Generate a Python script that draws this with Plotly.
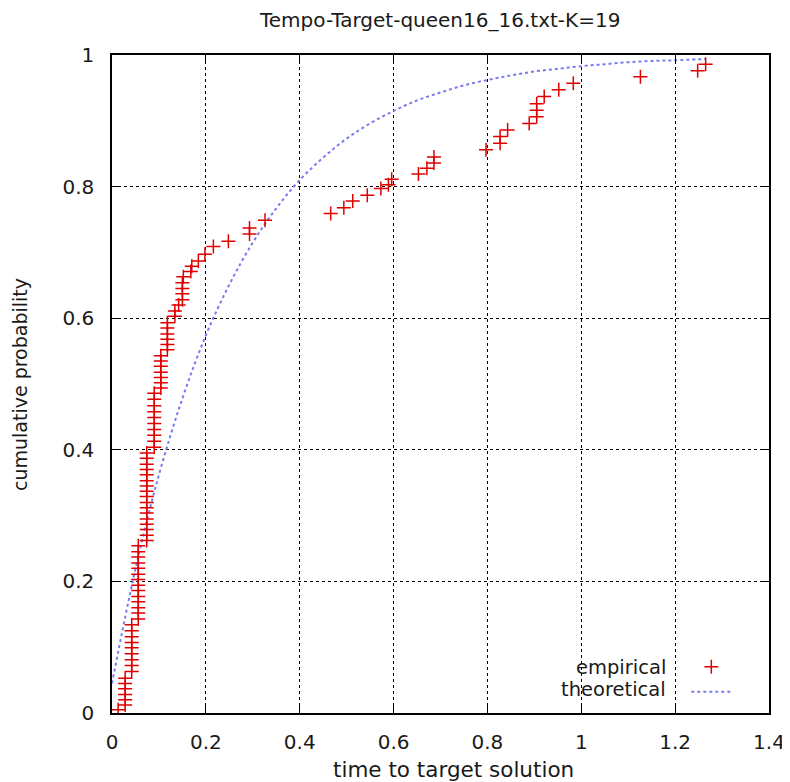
import plotly.graph_objects as go

# Empirical points (time to target, cumulative probability)
emp_x = [0.013,
         0.028, 0.028, 0.028, 0.028, 0.028, 0.028,
         0.042, 0.042, 0.042, 0.042, 0.042, 0.042, 0.042, 0.042, 0.042,
         0.056, 0.056, 0.056, 0.056, 0.056, 0.056, 0.056, 0.056, 0.056, 0.056, 0.056, 0.056, 0.056, 0.056,
         0.074, 0.074, 0.074, 0.074, 0.074, 0.074, 0.074, 0.074, 0.074, 0.074, 0.074, 0.074, 0.074, 0.074, 0.074, 0.074, 0.074,
         0.090, 0.090, 0.090, 0.090, 0.090, 0.090, 0.090, 0.090, 0.090, 0.090,
         0.104, 0.104, 0.104, 0.104, 0.104, 0.104, 0.104,
         0.118, 0.118, 0.118, 0.118, 0.118, 0.118,
         0.134, 0.134, 0.142,
         0.150, 0.150, 0.150, 0.150, 0.152,
         0.168, 0.170, 0.184, 0.198, 0.216, 0.248, 0.293, 0.293, 0.326,
         0.466, 0.494, 0.513, 0.544, 0.573, 0.589, 0.596, 0.653, 0.671, 0.686, 0.686,
         0.797, 0.827, 0.827, 0.843, 0.889, 0.905, 0.905, 0.905, 0.921, 0.952, 0.983,
         1.126, 1.248, 1.265]
emp_y = [0.005,
         0.012, 0.020, 0.028, 0.037, 0.045, 0.053,
         0.063, 0.072, 0.081, 0.090, 0.099, 0.107, 0.116, 0.125, 0.134,
         0.143, 0.152, 0.160, 0.169, 0.177, 0.186, 0.194, 0.203, 0.211, 0.220, 0.228, 0.237, 0.245, 0.254,
         0.262, 0.270, 0.279, 0.287, 0.295, 0.304, 0.312, 0.320, 0.329, 0.337, 0.345, 0.353, 0.362, 0.370, 0.378, 0.387, 0.395,
         0.404, 0.413, 0.422, 0.431, 0.440, 0.449, 0.458, 0.467, 0.477, 0.486,
         0.494, 0.502, 0.510, 0.518, 0.527, 0.535, 0.543,
         0.552, 0.560, 0.568, 0.576, 0.585, 0.593,
         0.603, 0.611, 0.620,
         0.628, 0.637, 0.645, 0.654, 0.663,
         0.671, 0.679, 0.687, 0.697, 0.709, 0.717, 0.728, 0.737, 0.749,
         0.759, 0.768, 0.778, 0.787, 0.797, 0.803, 0.811, 0.819, 0.828, 0.836, 0.845,
         0.856, 0.866, 0.876, 0.886, 0.896, 0.906, 0.916, 0.926, 0.937, 0.947, 0.957,
         0.967, 0.976, 0.986]

# Theoretical exponential curve, sampled
theo_x = [0.0, 0.05, 0.1, 0.15, 0.2, 0.25, 0.3, 0.35, 0.4, 0.45, 0.5, 0.55, 0.6,
          0.65, 0.7, 0.75, 0.8, 0.85, 0.9, 0.95, 1.0, 1.05, 1.1, 1.15, 1.2, 1.265]
theo_y = [0.045, 0.219, 0.362, 0.478, 0.574, 0.651, 0.715, 0.767, 0.810, 0.844, 0.873,
          0.896, 0.915, 0.931, 0.943, 0.954, 0.962, 0.969, 0.975, 0.979, 0.983, 0.986,
          0.989, 0.991, 0.992, 0.994]

x_ticks = [0, 0.2, 0.4, 0.6, 0.8, 1.0, 1.2, 1.4]
x_tick_labels = ["0", "0.2", "0.4", "0.6", "0.8", "1", "1.2", "1.4"]
y_ticks = [0, 0.2, 0.4, 0.6, 0.8, 1.0]
y_tick_labels = ["0", "0.2", "0.4", "0.6", "0.8", "1"]

FONT = "DejaVu Sans, Liberation Sans, sans-serif"
TXT = "#1a1a1a"

fig = go.Figure()
fig.add_trace(go.Scatter(
    x=theo_x, y=theo_y, mode="lines", name=" ",
    line=dict(color="#7a7af0", width=2, dash="dot", shape="spline"),
))
fig.add_trace(go.Scatter(
    x=emp_x, y=emp_y, mode="markers", name=" ",
    marker=dict(symbol="cross-thin", size=10, line=dict(color="#e00000", width=1.5), color="#e00000"),
))

axis_common = dict(
    showgrid=True, gridcolor="black", griddash="dot", gridwidth=1,
    showline=True, linecolor="black", linewidth=1.5, mirror="ticks",
    ticks="inside", ticklen=8, tickcolor="black", tickwidth=1,
    zeroline=False, automargin=False,
    tickfont=dict(family=FONT, size=20, color=TXT),
)

# The page body has an 8px margin, so the figure is sized/offset accordingly.
fig.update_layout(
    width=782, height=774,
    paper_bgcolor="white", plot_bgcolor="white",
    margin=dict(l=104, r=21, t=47, b=69),
    xaxis=dict(range=[0, 1.4], tickvals=x_ticks, ticktext=x_tick_labels,
               ticklabelstandoff=10, **axis_common),
    yaxis=dict(range=[0, 1], tickvals=y_ticks, ticktext=y_tick_labels,
               ticklabelstandoff=12, **axis_common),
    showlegend=True,
    legend=dict(x=0.967, y=0.0044, xanchor="right", yanchor="bottom",
                bgcolor="rgba(0,0,0,0)", font=dict(family=FONT, size=17, color=TXT),
                traceorder="reversed", itemwidth=40, tracegroupgap=0),
    annotations=[
        dict(text="Tempo-Target-queen16_16.txt-K=19", xref="paper", yref="paper",
             x=0.499, y=1.053, xanchor="center", yanchor="middle", showarrow=False,
             font=dict(family=FONT, size=20, color=TXT)),
        dict(text="time to target solution", xref="paper", yref="paper",
             x=0.5205, y=-0.0866, xanchor="center", yanchor="middle", showarrow=False,
             font=dict(family=FONT, size=21.5, color=TXT)),
        dict(text="cumulative probability", xref="paper", yref="paper",
             x=-0.14, y=0.4985, xanchor="center", yanchor="middle", showarrow=False,
             textangle=-90, font=dict(family=FONT, size=19, color=TXT)),
        dict(text="empirical", xref="paper", yref="paper", x=0.8463, y=0.0684,
             xanchor="right", yanchor="middle", showarrow=False,
             font=dict(family=FONT, size=19.5, color=TXT)),
        dict(text="theoretical", xref="paper", yref="paper", x=0.8463, y=0.035,
             xanchor="right", yanchor="middle", showarrow=False,
             font=dict(family=FONT, size=19.5, color=TXT)),
    ],
)

fig.write_html("out.html")
